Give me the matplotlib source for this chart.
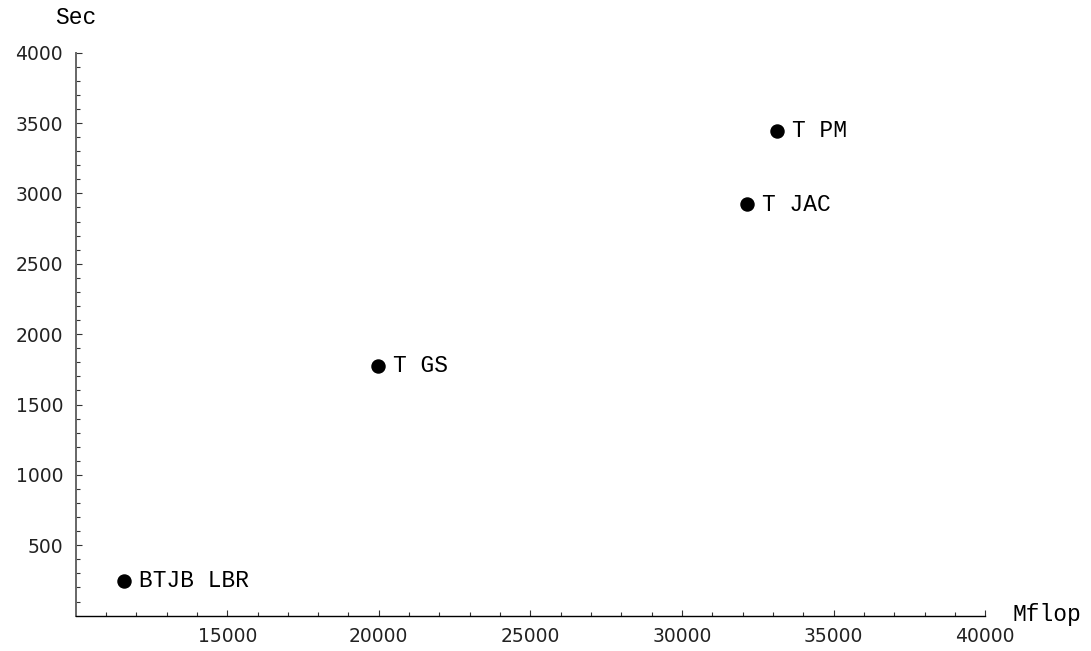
import matplotlib
matplotlib.use("Agg")
import matplotlib.pyplot as plt
import numpy as np

# Data
labels = ["BTJB LBR", "T GS", "T JAC", "T PM"]
mflop = [11600, 19960, 32130, 33120]
sec = [248, 1774, 2924, 3447]

x_major = [15000, 20000, 25000, 30000, 35000, 40000]
y_major = [500, 1000, 1500, 2000, 2500, 3000, 3500, 4000]

fig = plt.figure(figsize=(10.91, 6.51), dpi=100)
ax = fig.add_axes([75.6 / 1091, 1 - 615.6 / 651, (985.2 - 75.6) / 1091, (615.6 - 52.7) / 651])

ax.plot(mflop, sec, "o", color="black", markersize=9.4, clip_on=False, zorder=3)
for lab, x, y in zip(labels, mflop, sec):
    ax.annotate(lab, (x, y), xytext=(11, 0), textcoords="offset points",
                ha="left", va="center", family="Liberation Mono", fontsize=16.5, color="black")

ax.set_xlim(10000, 40000)
ax.set_ylim(0, 4000)
ax.set_xticks(x_major)
ax.set_yticks(y_major)
ax.set_xticks(np.arange(11000, 40001, 1000), minor=True)
ax.set_yticks(np.arange(100, 4001, 100), minor=True)
ax.set_xticklabels([str(v) for v in x_major], family="DejaVu Sans", fontsize=13.5, color="#222222")
ax.set_yticklabels([str(v) for v in y_major], family="DejaVu Sans", fontsize=13.5, color="#222222")

ax.tick_params(axis="both", which="major", direction="in", length=4.4, width=0.8, color="#333333")
ax.tick_params(axis="both", which="minor", direction="in", length=2.7, width=0.8, color="#333333")
ax.tick_params(axis="x", which="major", pad=8)
ax.tick_params(axis="y", which="major", pad=9)

for s in ["top", "right"]:
    ax.spines[s].set_visible(False)
ax.spines["bottom"].set_color("black")
ax.spines["bottom"].set_linewidth(1.0)
ax.spines["left"].set_color("#666666")
ax.spines["left"].set_linewidth(1.4)
ax.patch.set_visible(False)

fig.text(76 / 1091, 1 - 18 / 651, "Sec", ha="center", va="center",
         family="Liberation Mono", fontsize=16.5)
fig.text(1012 / 1091, 1 - 615 / 651, "Mflop", ha="left", va="center",
         family="Liberation Mono", fontsize=16.5)

fig.savefig("out.png", dpi=100)
